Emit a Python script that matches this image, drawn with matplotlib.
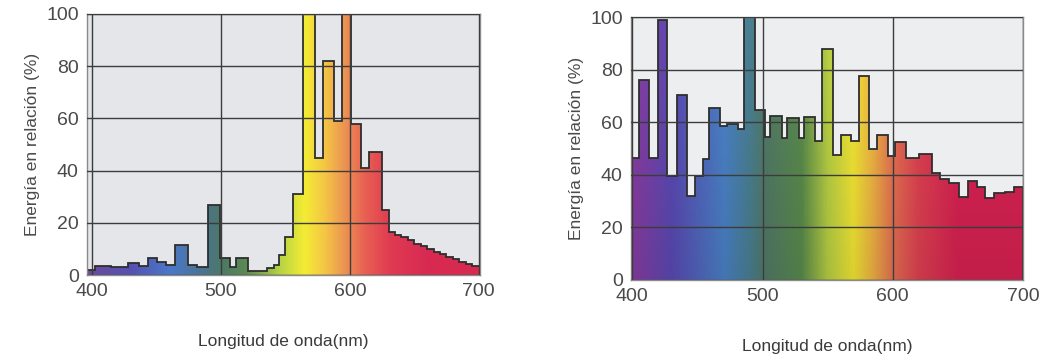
import numpy as np
import matplotlib
matplotlib.use("Agg")
import matplotlib.pyplot as plt
from matplotlib.colors import LinearSegmentedColormap

plt.rcParams['font.family'] = ['Liberation Sans', 'DejaVu Sans']

# spectrum of the lamp on the left: bin edges (nm) and relative energy (%)
left_edges = [396, 402, 415, 428, 436, 443, 450, 457, 464, 474, 481, 490, 499,
              507, 512, 521, 536, 541, 545, 550, 556, 564, 573, 579, 588, 594,
              601, 609, 615, 625, 630, 635, 640, 645, 650, 655, 660, 665, 670,
              675, 680, 685, 690, 695, 701]
left_energy = [2, 3.5, 3, 4.5, 3.5, 6.5, 5, 4, 11.5, 4, 3, 27,
               6.5, 3, 6.5, 1.5, 2.7, 3.8, 7.7, 14.7, 31, 100, 45, 82, 59,
               100, 58, 41, 47, 25, 16.5, 15.5, 14.5, 13.5, 12, 11, 10, 9,
               8, 7, 6, 5, 4.2, 3.5]

# spectrum of the lamp on the right
right_edges = [399, 405, 413, 420, 427, 434, 442, 448, 454, 459, 467, 473, 481,
               486, 494, 502, 506, 515, 519, 528, 532, 540, 546, 554, 560, 568,
               574, 582, 588, 596, 602, 610, 620, 630, 636, 643, 651, 658, 665,
               671, 678, 686, 693, 700]
right_energy = [46.5, 76, 46.5, 99, 39.5, 70.5, 32, 39.5, 46, 65.5, 58.5, 59.5,
                57.5, 100, 64.5, 54.5, 62.5, 54, 61.5, 54, 62, 53, 88, 47.5,
                55, 53, 77.5, 50, 55, 47, 52.5, 46.5, 48, 40.5, 38.5, 37, 31.5,
                37.5, 35.3, 31, 33, 33.5, 35.5]

x_ticks = [400, 500, 600, 700]
y_ticks = [0, 20, 40, 60, 80, 100]

left_colors = [(396, '#6a4c9c'), (430, '#5552b2'), (460, '#4a78c8'),
               (486, '#4a7490'), (500, '#4c7868'), (520, '#5c8a52'),
               (545, '#b4d244'), (565, '#f4ec34'), (580, '#f4c844'),
               (596, '#ec9452'), (612, '#e86052'), (632, '#e03a52'),
               (660, '#d82a52'), (701, '#d82a50')]
right_colors = [(399, '#8a3ca2'), (430, '#5a4ab4'), (470, '#4a82c8'),
                (490, '#4a8092'), (502, '#527a68'), (530, '#5a8c4c'),
                (550, '#b8d044'), (570, '#f4e834'), (585, '#f0b444'),
                (600, '#e87252'), (620, '#e04252'), (650, '#d82252'),
                (700, '#d82252')]


def spectrum_cmap(stops, lo, hi):
    return LinearSegmentedColormap.from_list(
        'spec', [((w - lo) / (hi - lo), c) for w, c in stops])


def draw_panel(ax, edges, energy, stops, face, shade):
    lo, hi = edges[0], edges[-1]
    ax.set_facecolor(face)
    cmap = spectrum_cmap(stops, lo, hi)
    wl = np.linspace(0, 1, 600)
    rgb = cmap(wl)[:, :3]
    # light vertical shading: a bit darker near the baseline
    fade = np.linspace(1 - shade, 1.0, 200)[:, None, None]
    img = rgb[None, :, :] * fade
    patch = ax.stairs(energy, edges, fill=True, color='none', baseline=0)
    im = ax.imshow(img, extent=[lo, hi, 0, 100], origin='lower',
                   aspect='auto', zorder=1)
    im.set_clip_path(patch)
    ax.stairs(energy, edges, color='#2e2e2e', lw=1.3, baseline=0, zorder=2)
    ax.set_xlim(lo, hi)
    ax.set_ylim(0, 100)
    ax.set_xticks(x_ticks)
    ax.set_yticks(y_ticks)
    ax.grid(True, color='#3c3c3c', lw=1.0)
    ax.set_axisbelow(False)
    ax.tick_params(length=0, labelsize=14, colors='#4a4a4a', pad=6)
    for s in ax.spines.values():
        s.set_color('#8a8a8a')
        s.set_linewidth(1.0)
    ax.set_ylabel('Energía en relación (%)', fontsize=12.5, color='#4a4a4a',
                  labelpad=4)
    ax.set_xlabel('Longitud de onda(nm)', fontsize=12.5, color='#3a3a3a',
                  labelpad=24)


fig = plt.figure(figsize=(10.46, 3.56), dpi=100)
ax1 = fig.add_axes([87 / 1046, 81 / 356, 393 / 1046, 261 / 356])
ax2 = fig.add_axes([631 / 1046, 76 / 356, 392 / 1046, 263 / 356])

draw_panel(ax1, left_edges, left_energy, left_colors, '#e4e6ea', 0.0)
draw_panel(ax2, right_edges, right_energy, right_colors, '#eceef0', 0.1)

fig.savefig('out.png', dpi=100)
